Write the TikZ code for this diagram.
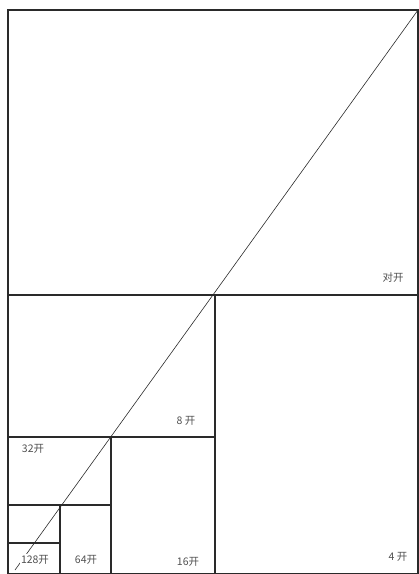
\documentclass[tikz,border=0pt]{standalone}
\usepackage{fontspec}
\newfontfamily\cjk{Noto Sans CJK SC}
\usetikzlibrary{positioning,calc}
\definecolor{ink}{HTML}{2A2A2A}
\definecolor{labgrey}{HTML}{505050}

\begin{document}
\begin{tikzpicture}[x=1pt,y=-1pt,font=\cjk\fontsize{10.5}{11}\selectfont\color{labgrey},
            cut/.style={ink,line width=1.3pt},
            fold/.style={ink,line width=0.6pt},
            lab/.style={inner sep=1pt}]
          \useasboundingbox (0,0) rectangle (419,574);
          \coordinate (tl) at (8,10); \coordinate (tr) at (418,10);
          \coordinate (bl) at (8,574); \coordinate (br) at (418,574);
          \draw[cut] (bl) -- (tl) -- (tr) -- (br) -- cycle;
          % halving the sheet again and again
          \foreach \x/\y in {418/295,215/437,111/505,60/543}{
            \draw[cut] (8,\y) -- (\x,\y);}
          \foreach \x/\y in {215/295,111/437,60/505}{
            \draw[cut] (\x,\y) -- (\x,574);}
          \draw[fold] (tr) -- (15,570);
          \foreach \n/\p/\lab in {dui/{393,278}/对开,ba/{186,421}/8 开,sanshier/{33,449}/32开,
              liushisi/{86,560}/64开,shiliu/{188,562}/16开,si/{398,557}/4 开}{
            \node[lab] (\n) at (\p) {\lab};}
          \node[lab,fill=white] (yibai) at (35,560) {128开};
        \end{tikzpicture}
\end{document}
